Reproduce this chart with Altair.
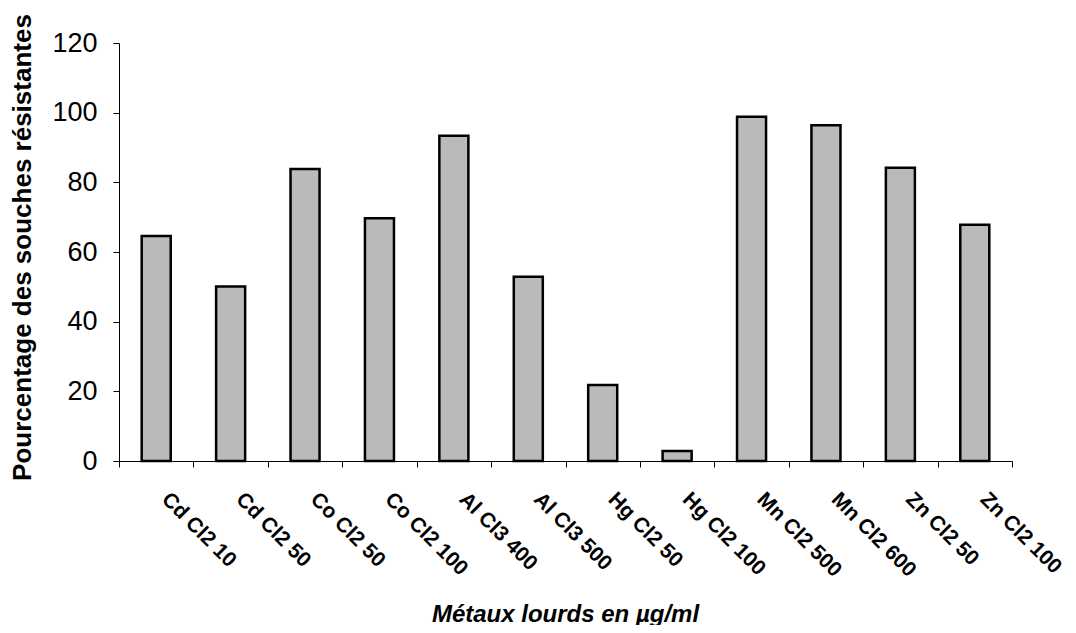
import altair as alt
import pandas as pd

categories = ["Cd Cl2 10", "Cd Cl2 50", "Co Cl2 50", "Co Cl2 100", "Al Cl3 400", "Al Cl3 500",
              "Hg Cl2 50", "Hg Cl2 100", "Mn Cl2 500", "Mn Cl2 600", "Zn Cl2 50", "Zn Cl2 100"]
values = [64.6, 50.1, 83.8, 69.7, 93.4, 52.9, 21.8, 2.9, 98.8, 96.4, 84.2, 67.8]

df = pd.DataFrame({"metal": categories, "pct": values})

FONT = "Liberation Sans"

chart = alt.Chart(df).mark_bar(
    width=alt.RelativeBandSize(0.39),
    fill="#bababa",
    stroke="black",
    strokeWidth=2.5,
).encode(
    x=alt.X("metal:N", sort=categories,
            scale=alt.Scale(paddingInner=0, paddingOuter=0),
            axis=alt.Axis(title="Métaux lourds en µg/ml",
                          labelAngle=45, labelAlign="left", labelBaseline="top",
                          labelOffset=16, labelPadding=21,
                          labelFont=FONT, labelFontSize=21, labelFontWeight="bold",
                          labelColor="black", labelLimit=300,
                          tickBand="extent", tickSize=6, tickColor="black",
                          domainColor="black",
                          titleFont=FONT, titleFontSize=24, titleFontWeight="bold",
                          titleFontStyle="italic", titleColor="black",
                          titleX=446, titleY=160, titleAnchor="middle",
                          titleAlign="center", titleBaseline="alphabetic")),
    y=alt.Y("pct:Q",
            scale=alt.Scale(domain=[0, 120], nice=False),
            axis=alt.Axis(title="Pourcentage des souches résistantes",
                          values=[0, 20, 40, 60, 80, 100, 120], grid=False,
                          labelFont=FONT, labelFontSize=27, labelColor="black",
                          labelPadding=16, tickSize=6, tickColor="black",
                          domainColor="black",
                          titleFont=FONT, titleFontSize=26, titleFontWeight="bold",
                          titleColor="black", titleAngle=-90,
                          titleX=-97, titleY=204, titleAlign="center",
                          titleBaseline="middle")),
).properties(
    width=893, height=418,
    padding={"left": 111, "top": 35, "right": 56, "bottom": 164},
    autosize=alt.AutoSizeParams(type="none"),
    background="white",
).configure_view(strokeWidth=0, stroke="transparent")

chart.save("out.html", embed_options={"renderer": "svg", "actions": False})
